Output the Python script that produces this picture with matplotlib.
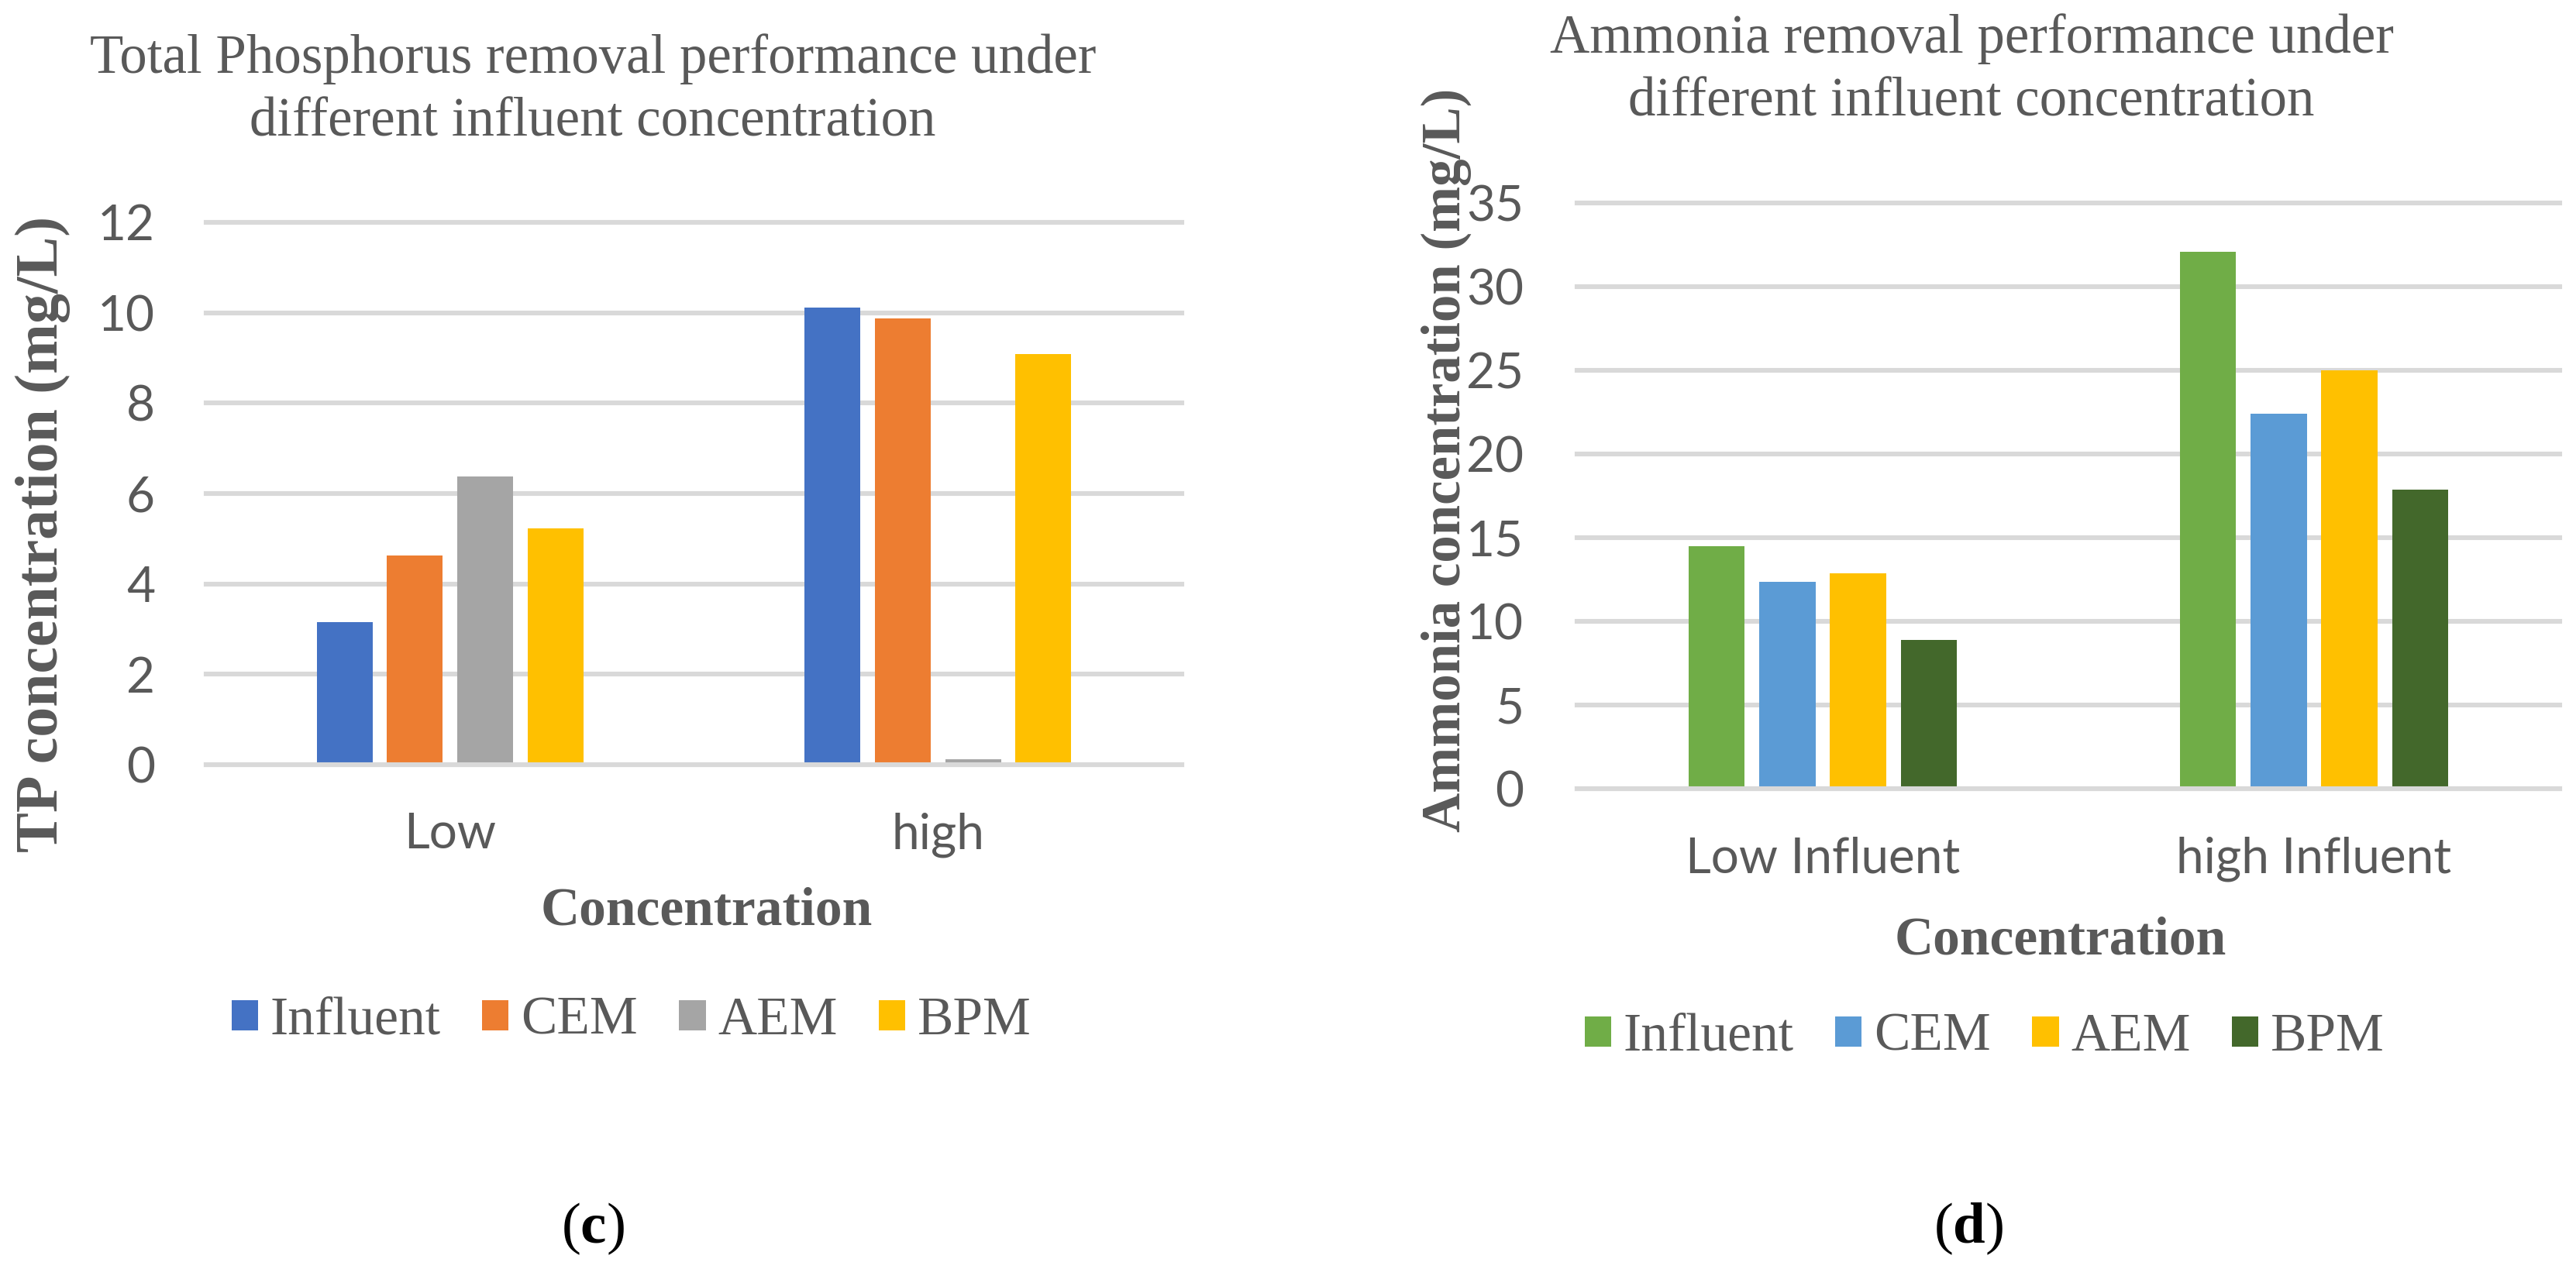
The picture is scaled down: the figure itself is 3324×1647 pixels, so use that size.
import numpy as np
import matplotlib
matplotlib.use("Agg")
import matplotlib.pyplot as plt
from matplotlib.patches import Patch

# Panel (c): total phosphorus
tp_groups = ["Low", "high"]
tp_series = ["Influent", "CEM", "AEM", "BPM"]
tp_influent = [3.15, 10.12]
tp_cem = [4.62, 9.88]
tp_aem = [6.37, 0.12]
tp_bpm = [5.22, 9.09]
tp_colors = ["#4472C4", "#ED7D31", "#A5A5A5", "#FFC000"]
tp_ticks = [0, 2, 4, 6, 8, 10, 12]

# Panel (d): ammonia
nh_groups = ["Low Influent", "high Influent"]
nh_series = ["Influent", "CEM", "AEM", "BPM"]
nh_influent = [14.49, 32.1]
nh_cem = [12.36, 22.42]
nh_aem = [12.85, 25.0]
nh_bpm = [8.9, 17.86]
nh_colors = ["#70AD47", "#5B9BD5", "#FFC000", "#43682B"]
nh_ticks = [0, 5, 10, 15, 20, 25, 30, 35]

W, H = 3324, 1647
DPI = 200
GRAY = "#595959"
GRID = "#D9D9D9"
SERIF = "Liberation Serif"
SANS = "Lato"

plt.rcParams["mathtext.fontset"] = "custom"
plt.rcParams["mathtext.rm"] = "Liberation Serif"
plt.rcParams["mathtext.bf"] = "Liberation Serif:bold"

fig = plt.figure(figsize=(W / DPI, H / DPI), dpi=DPI)


def fx(x):
    return x / W


def fy(y):
    return 1 - y / H


def panel(rect, groups, series, values, colors, ticks, pad_y):
    left, top, right, bottom = rect
    ax = fig.add_axes([fx(left), fy(bottom), fx(right - left), (bottom - top) / H])
    x = np.arange(len(groups))
    width = 0.1145
    pitch = 0.144
    for i, (vals, col) in enumerate(zip(values, colors)):
        ax.bar(x + (i - 1.5) * pitch, vals, width, color=col, label=series[i], zorder=2)
    ax.set_xlim(-0.5, len(groups) - 0.5)
    ax.set_ylim(ticks[0], ticks[-1])
    ax.set_yticks(ticks)
    ax.set_xticks(x)
    ax.set_xticklabels(groups)
    for s in ax.spines.values():
        s.set_visible(False)
    ax.yaxis.grid(True, color=GRID, linewidth=2.2, zorder=0)
    ax.set_axisbelow(True)
    for ln in ax.get_ygridlines():
        ln.set_clip_on(False)
    ax.axhline(0, color=GRID, linewidth=2.2, zorder=3, clip_on=False)
    ax.tick_params(axis="both", length=0, labelsize=23, labelcolor=GRAY)
    ax.tick_params(axis="y", pad=pad_y)
    ax.tick_params(axis="x", pad=22)
    for lab in ax.get_xticklabels() + ax.get_yticklabels():
        lab.set_fontfamily(SANS)
    return ax


ax1 = panel((266, 287, 1525, 987), tp_groups, tp_series,
            [tp_influent, tp_cem, tp_aem, tp_bpm], tp_colors, tp_ticks, 23.8)
ax2 = panel((2035, 262, 3303, 1018), nh_groups, nh_series,
            [nh_influent, nh_cem, nh_aem, nh_bpm], nh_colors, nh_ticks, 24.8)

# titles (two lines each, placed on their baselines)
title_kw = dict(ha="center", va="baseline", fontsize=25.5, family=SERIF, color=GRAY)
fig.text(fx(765), fy(94), "Total Phosphorus removal performance under", **title_kw)
fig.text(fx(765), fy(176), "different influent concentration", **title_kw)
fig.text(fx(2544), fy(68), "Ammonia removal performance under", **title_kw)
fig.text(fx(2544), fy(149), "different influent concentration", **title_kw)

# axis titles
fig.text(fx(55), fy(689), "TP concentration (mg/L)", rotation=90, ha="center", va="center",
         fontsize=28, family=SERIF, weight="bold", color=GRAY)
fig.text(fx(1866), fy(594), "Ammonia concentration (mg/L)", rotation=90, ha="center", va="center",
         fontsize=25.5, family=SERIF, weight="bold", color=GRAY)
fig.text(fx(912), fy(1176), "Concentration", ha="center", va="center",
         fontsize=25, family=SERIF, weight="bold", color=GRAY)
fig.text(fx(2659), fy(1215), "Concentration", ha="center", va="center",
         fontsize=25, family=SERIF, weight="bold", color=GRAY)

# legends
for series, colors, cx, cy in [(tp_series, tp_colors, 815, 1318), (nh_series, nh_colors, 2561, 1339)]:
    handles = [Patch(facecolor=c, edgecolor="none", label=s) for s, c in zip(series, colors)]
    leg = fig.legend(handles=handles, loc="center", bbox_to_anchor=(fx(cx), fy(cy)), ncol=4,
                     frameon=False, prop={"family": SERIF, "size": 25},
                     handlelength=0.49, handleheight=0.49, handletextpad=0.23,
                     columnspacing=0.77, borderpad=0, borderaxespad=0)
    for t in leg.get_texts():
        t.set_color(GRAY)

# panel letters
fig.text(fx(765), fy(1586), r"($\mathbf{c}$)", ha="center", va="center", fontsize=27, family=SERIF, color="black")
fig.text(fx(2540), fy(1586), r"($\mathbf{d}$)", ha="center", va="center", fontsize=27, family=SERIF, color="black")

fig.savefig("out.png", dpi=DPI, facecolor="white")
